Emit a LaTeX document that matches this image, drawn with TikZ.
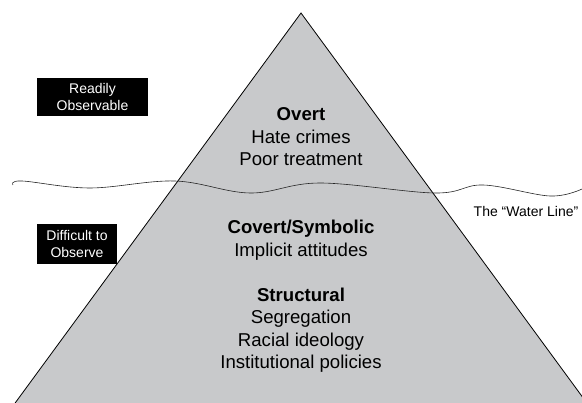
\documentclass[tikz,border=0pt]{standalone}
\usepackage{fontspec}
\setmainfont{Liberation Sans}
\usepackage{tikz}

\definecolor{berg}{RGB}{200,201,203}

\begin{document}
\begin{tikzpicture}[x=1pt, y=-1pt, line width=0.8pt]
              \useasboundingbox (0,0) rectangle (582,403);
              \clip (0,0) rectangle (582,403);

              % the iceberg, its base runs off the page
              \draw[fill=berg] (301,13) -- (10,410) -- (592,410) -- cycle;

              % water line
              \draw[line width=0.6pt, black!85] plot[smooth, tension=0.6] coordinates
                   {(13,185) (22,181) (90,188) (175,181) (250,193) (320,183)
                    (435,193) (483,185) (550,196) (582,189)};

              \node(overt) at (301,137) [align=center, font=\fontsize{18.6}{22.5}\selectfont]
                   {\textbf{Overt}\\Hate crimes\\Poor treatment};
              \node(covert) at (301,240) [align=center, font=\fontsize{18.6}{22.5}\selectfont]
                   {\textbf{Covert/Symbolic}\\Implicit attitudes};
              \node(struct) at (301,330) [align=center, font=\fontsize{18.6}{22.5}\selectfont]
                   {\textbf{Structural}\\Segregation\\Racial ideology\\Institutional policies};

              \node(ready) at (92.5,97) [fill=black, text=white, minimum width=111, minimum height=38,
                   inner sep=0, align=center, font=\fontsize{14}{17}\selectfont]
                   {Readily\\Observable};
              \node(hard) at (77,244) [fill=black, text=white, minimum width=80, minimum height=40,
                   inner sep=0, align=center, font=\fontsize{14}{17}\selectfont]
                   {Difficult to\\Observe};
              \node(water) at (526,211) [font=\fontsize{14}{17}\selectfont] {The “Water Line”};
            \end{tikzpicture}
\end{document}
